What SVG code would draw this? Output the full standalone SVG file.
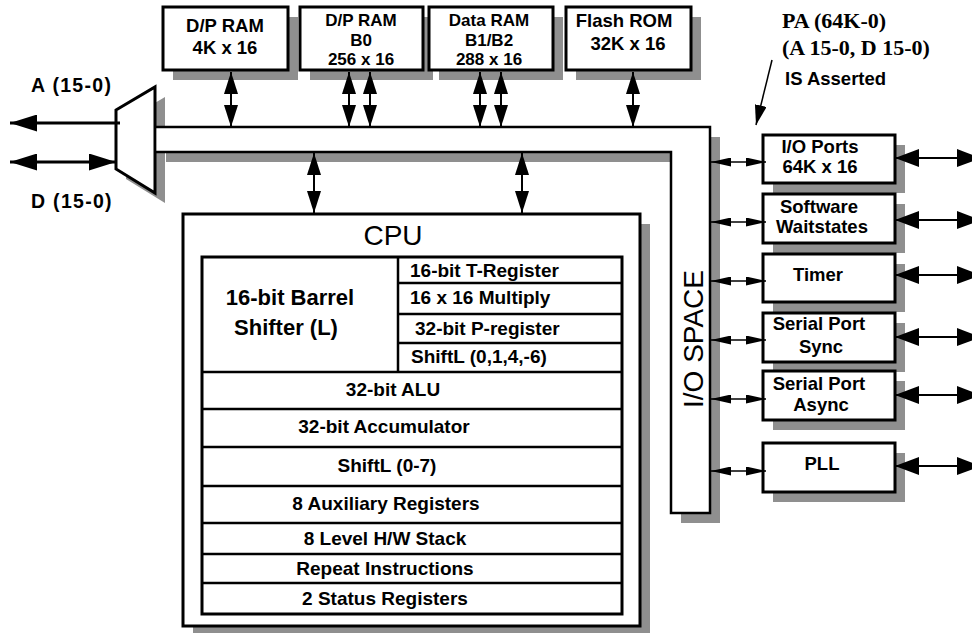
<svg xmlns="http://www.w3.org/2000/svg" width="972" height="633" viewBox="0 0 972 633">
<defs>
<style>
.box{fill:#fff;stroke:#000;stroke-width:3}
.sh{fill:#8f8f8f;stroke:none}
.t{font-family:"Liberation Sans",Arial,sans-serif;font-weight:bold;font-size:18.5px;fill:#000}
.m3{font-size:17px}
.row{font-size:19px}
.c{text-anchor:middle}
.big{font-family:"Liberation Sans",Arial,sans-serif;font-size:28px;fill:#000}
.serif{font-family:"Liberation Serif","Times New Roman",serif;font-weight:bold;font-size:22px;fill:#000}
.ln{stroke:#000;stroke-width:2.5;fill:none}
.av{stroke:#000;stroke-width:2;fill:none;marker-start:url(#mV);marker-end:url(#mV)}
.ah{stroke:#000;stroke-width:2;fill:none;marker-start:url(#mH);marker-end:url(#mH)}
.as{stroke:#000;stroke-width:1.5;fill:none;marker-start:url(#mS);marker-end:url(#mS)}
</style>
<marker id="mV" markerUnits="userSpaceOnUse" markerWidth="22" markerHeight="14" refX="22" refY="7" orient="auto-start-reverse"><path d="M0,0 L22,7 L0,14 z" fill="#000"/></marker>
<marker id="mH" markerUnits="userSpaceOnUse" markerWidth="25" markerHeight="18" refX="24" refY="9" orient="auto-start-reverse"><path d="M0,0 L24,9 L0,18 z" fill="#000"/></marker>
<marker id="mA" markerUnits="userSpaceOnUse" markerWidth="28" markerHeight="17" refX="27" refY="8.5" orient="auto-start-reverse"><path d="M0,0 L27,8.5 L0,17 z" fill="#000"/></marker>
<marker id="mS" markerUnits="userSpaceOnUse" markerWidth="21" markerHeight="9" refX="20" refY="4.5" orient="auto-start-reverse"><path d="M0,0 L20,4.5 L0,9 z" fill="#000"/></marker>
<marker id="mP" markerUnits="userSpaceOnUse" markerWidth="20" markerHeight="12" refX="20" refY="6" orient="auto"><path d="M0,0 L20,6 L0,12 z" fill="#000"/></marker>
</defs>
<rect width="972" height="633" fill="#fff"/>

<g id="mux">
<polygon class="sh" points="126,120 165,97 165,203 126,179"/>
<polygon class="box" points="116,110 155,87 155,193 116,169"/>
</g>

<g id="bus">
<polygon class="sh" points="166,137 720,137 720,523 681,523 681,162 166,162"/>
<polygon fill="#fff" points="156.5,127 710,127 710,513 671,513 671,152 156.5,152"/>
<path class="ln" stroke-width="3" d="M155,127 H710 V513 H671 V152 H155"/>
<text class="big" transform="translate(703,339) rotate(-90)" text-anchor="middle">I/O SPACE</text>
</g>

<g id="mem-dpram4k">
<rect class="sh" x="173" y="17" width="125" height="63"/>
<rect class="box" x="163" y="7" width="125" height="63"/>
<text class="t c" x="225" y="32">D/P RAM</text>
<text class="t c" x="225" y="54">4K x 16</text>
</g>
<g id="mem-b0">
<rect class="sh" x="310" y="17" width="123" height="63"/>
<rect class="box" x="300" y="7" width="123" height="63"/>
<text class="t c m3" x="361" y="26">D/P RAM</text>
<text class="t c m3" x="361" y="45.5">B0</text>
<text class="t c m3" x="361" y="65">256 x 16</text>
</g>
<g id="mem-b1b2">
<rect class="sh" x="439" y="17" width="124" height="63"/>
<rect class="box" x="429" y="7" width="124" height="63"/>
<text class="t c m3" x="489" y="26">Data RAM</text>
<text class="t c m3" x="489" y="45.5">B1/B2</text>
<text class="t c m3" x="489" y="65">288 x 16</text>
</g>
<g id="mem-flash">
<rect class="sh" x="576" y="17" width="125" height="63"/>
<rect class="box" x="566" y="7" width="125" height="63"/>
<text class="t c" x="624" y="27">Flash ROM</text>
<text class="t c" x="628" y="50">32K x 16</text>
</g>

<g id="cpu">
<rect class="sh" x="193" y="224" width="457" height="412"/>
<rect class="box" x="183" y="214" width="457" height="412"/>
<text class="big c" x="393" y="245">CPU</text>
<rect class="box" x="202" y="257" width="420" height="357"/>
<path class="ln" d="M398,257 V372 M398,283 H622 M398,314 H622 M398,343 H622"/>
<path class="ln" stroke-width="3" d="M202,372 H622 M202,409 H622 M202,447 H622 M202,486 H622 M202,523 H622 M202,554 H622 M202,583 H622"/>
<text class="t c" x="290" y="305" style="font-size:22px">16-bit Barrel</text>
<text class="t c" x="286" y="335" style="font-size:22px">Shifter (L)</text>
<text class="t" x="410" y="277" style="font-size:19px">16-bit T-Register</text>
<text class="t" x="410" y="304" style="font-size:19px">16 x 16 Multiply</text>
<text class="t" x="415" y="335" style="font-size:19px">32-bit P-register</text>
<text class="t" x="411" y="363" style="font-size:19px">ShiftL (0,1,4,-6)</text>
<text class="t c row" x="393" y="396">32-bit ALU</text>
<text class="t c row" x="384" y="433">32-bit Accumulator</text>
<text class="t c row" x="387" y="472">ShiftL (0-7)</text>
<text class="t c row" x="386" y="510">8 Auxiliary Registers</text>
<text class="t c row" x="385" y="545">8 Level H/W Stack</text>
<text class="t c row" x="385" y="575">Repeat Instructions</text>
<text class="t c row" x="385" y="605">2 Status Registers</text>
</g>

<g id="io-ports">
<rect class="sh" x="773" y="145" width="132" height="48"/>
<rect class="box" x="763" y="135" width="132" height="48"/>
<text class="t c" x="820" y="153">I/O Ports</text>
<text class="t c" x="820" y="173">64K x 16</text>
</g>
<g id="io-waitstates">
<rect class="sh" x="773" y="204" width="132" height="49"/>
<rect class="box" x="763" y="194" width="132" height="49"/>
<text class="t c" x="819" y="213">Software</text>
<text class="t c" x="822" y="233">Waitstates</text>
</g>
<g id="io-timer">
<rect class="sh" x="773" y="264" width="132" height="48"/>
<rect class="box" x="763" y="254" width="132" height="48"/>
<text class="t c" x="818" y="281">Timer</text>
</g>
<g id="io-sync">
<rect class="sh" x="773" y="323" width="132" height="49"/>
<rect class="box" x="763" y="313" width="132" height="49"/>
<text class="t c" x="819" y="330">Serial Port</text>
<text class="t c" x="821" y="353">Sync</text>
</g>
<g id="io-async">
<rect class="sh" x="773" y="381" width="132" height="49"/>
<rect class="box" x="763" y="371" width="132" height="49"/>
<text class="t c" x="819" y="390">Serial Port</text>
<text class="t c" x="821" y="411">Async</text>
</g>
<g id="io-pll">
<rect class="sh" x="773" y="453" width="132" height="49"/>
<rect class="box" x="763" y="443" width="132" height="49"/>
<text class="t c" x="822" y="470">PLL</text>
</g>

<g id="labels">
<text class="t" x="31" y="92" style="font-size:19.5px;letter-spacing:1.3px">A (15-0)</text>
<text class="t" x="31" y="208" style="font-size:19.5px;letter-spacing:1.3px">D (15-0)</text>
<text class="serif" x="782" y="28">PA (64K-0)</text>
<text class="serif" x="782" y="55">(A 15-0, D 15-0)</text>
<text class="t" x="785" y="85">IS Asserted</text>
</g>

<g id="connectors">
<line x1="231" y1="72" x2="231" y2="127" class="av"/>
<line x1="349" y1="72" x2="349" y2="127" class="av"/>
<line x1="370" y1="72" x2="370" y2="127" class="av"/>
<line x1="480" y1="72" x2="480" y2="127" class="av"/>
<line x1="501" y1="72" x2="501" y2="127" class="av"/>
<line x1="633" y1="72" x2="633" y2="127" class="av"/>
<line x1="314" y1="153" x2="314" y2="213" class="av"/>
<line x1="522" y1="153" x2="522" y2="213" class="av"/>
<line x1="120" y1="123" x2="10" y2="123" stroke="#000" stroke-width="3" marker-end="url(#mA)"/>
<line x1="10" y1="162" x2="116" y2="162" stroke="#000" stroke-width="3" marker-start="url(#mA)" marker-end="url(#mA)"/>
<line x1="711" y1="162" x2="766" y2="162" class="as"/>
<line x1="711" y1="222" x2="766" y2="222" class="as"/>
<line x1="711" y1="281" x2="766" y2="281" class="as"/>
<line x1="711" y1="340" x2="766" y2="340" class="as"/>
<line x1="711" y1="399" x2="766" y2="399" class="as"/>
<line x1="711" y1="471" x2="766" y2="471" class="as"/>
<line x1="895" y1="158" x2="981" y2="158" class="ah"/>
<line x1="895" y1="220" x2="981" y2="220" class="ah"/>
<line x1="895" y1="275" x2="981" y2="275" class="ah"/>
<line x1="895" y1="337" x2="981" y2="337" class="ah"/>
<line x1="895" y1="395" x2="981" y2="395" class="ah"/>
<line x1="895" y1="466" x2="981" y2="466" class="ah"/>
<line x1="772" y1="60" x2="756" y2="125" stroke="#000" stroke-width="1.5" marker-end="url(#mP)"/>
</g>
</svg>
